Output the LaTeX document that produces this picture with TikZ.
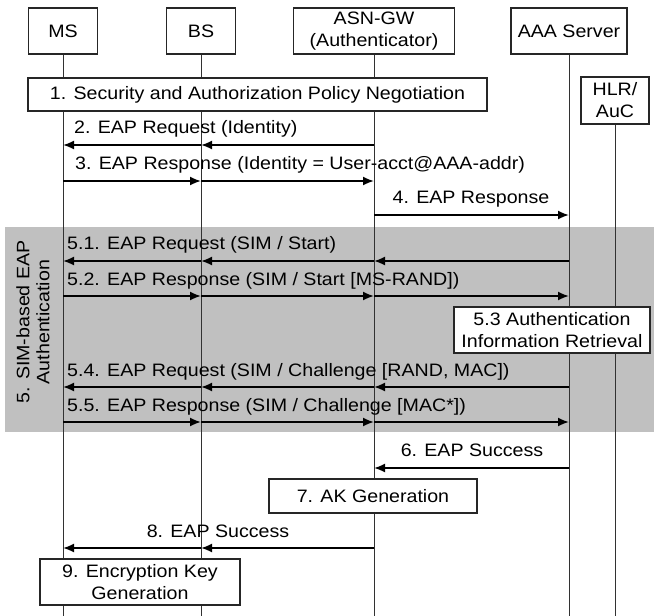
\documentclass[tikz,border=0pt]{standalone}
\usepackage{fontspec}
\setmainfont{Liberation Sans}[FakeStretch=1.09]
\usetikzlibrary{arrows.meta}
\definecolor{band}{RGB}{192,192,192}
\definecolor{lifecol}{RGB}{50,50,50}
\begin{document}
\begin{tikzpicture}[x=1pt,y=-1pt,
  every node/.style={font=\fontsize{18}{22}\selectfont, inner sep=0pt},
  box/.style={draw=black!85, line width=1.1pt, fill=white, align=center},
  life/.style={draw=lifecol, line width=0.9pt},
  msg/.style={draw=black, line width=1.8pt, -{Latex[length=11pt,width=9pt]}},
  lbl/.style={text height=12.9pt, text depth=0pt}]
\useasboundingbox (0,0) rectangle (654,616);
% grey band of phase 5
\fill[band] (5,227) rectangle (654,432);
\node[rotate=90, align=center, font=\fontsize{18}{20}\selectfont] (phase5) at (33,322) {5. SIM-based EAP\\Authentication};
% header boxes
\node[box, minimum width=69pt, minimum height=46pt] (ms) at (63,31) {MS};
\node[box, minimum width=69pt, minimum height=46pt] (bs) at (201,31) {BS};
\node[box, minimum width=161pt, minimum height=46pt] (asn) at (374,31) {ASN-GW\\(Authenticator)};
\node[box, minimum width=116pt, minimum height=46pt] (aaa) at (569,31) {AAA Server};
\node[box, minimum width=68pt, minimum height=47pt] (hlr) at (615,100.5) {HLR/\\AuC};
\coordinate (bottom) at (0,616);
% lifelines
\foreach \n in {ms,bs,asn,aaa,hlr}{\draw[life] (\n.south) -- (\n.south |- bottom);}
% boxes on the lifelines
\node[box, minimum width=459pt, minimum height=33pt] (neg) at (257.5,94.5) {1. Security and Authorization Policy Negotiation};
\node[box, minimum width=196pt, minimum height=46pt] (retr) at (552,330) {5.3 Authentication\\Information Retrieval};
\node[box, minimum width=208pt, minimum height=34pt] (akgen) at (373,496) {7. AK Generation};
\node[box, minimum width=200pt, minimum height=46pt] (ekgen) at (140,582) {9. Encryption Key\\Generation};
% message levels
\coordinate (m2) at (0,145);
\coordinate (m3) at (0,181);
\coordinate (m4) at (0,215);
\coordinate (m51) at (0,261);
\coordinate (m52) at (0,296);
\coordinate (m54) at (0,387);
\coordinate (m55) at (0,422);
\coordinate (m6) at (0,468);
\coordinate (m8) at (0,548);
% messages
\draw[msg] (asn |- m2) -- (bs |- m2);
\draw[msg] (bs |- m2) -- (ms |- m2);
\draw[msg] (ms |- m3) -- (bs |- m3);
\draw[msg] (bs |- m3) -- (asn |- m3);
\draw[msg] (asn |- m4) -- (aaa |- m4);
\draw[msg] (aaa |- m51) -- (asn |- m51);
\draw[msg] (asn |- m51) -- (bs |- m51);
\draw[msg] (bs |- m51) -- (ms |- m51);
\draw[msg] (ms |- m52) -- (bs |- m52);
\draw[msg] (bs |- m52) -- (asn |- m52);
\draw[msg] (asn |- m52) -- (aaa |- m52);
\draw[msg] (aaa |- m54) -- (asn |- m54);
\draw[msg] (asn |- m54) -- (bs |- m54);
\draw[msg] (bs |- m54) -- (ms |- m54);
\draw[msg] (ms |- m55) -- (bs |- m55);
\draw[msg] (bs |- m55) -- (asn |- m55);
\draw[msg] (asn |- m55) -- (aaa |- m55);
\draw[msg] (aaa |- m6) -- (asn |- m6);
\draw[msg] (asn |- m8) -- (bs |- m8);
\draw[msg] (bs |- m8) -- (ms |- m8);
% labels
\node[lbl, anchor=west] (l2) at (74,127) {2. EAP Request (Identity)};
\node[lbl, anchor=west] (l3) at (75,163) {3. EAP Response (Identity = User-acct@AAA-addr)};
\node[lbl] (l4) at (471,197) {4. EAP Response};
\node[lbl, anchor=west] (l51) at (67,243) {5.1. EAP Request (SIM / Start)};
\node[lbl, anchor=west] (l52) at (67,279) {5.2. EAP Response (SIM / Start [MS-RAND])};
\node[lbl, anchor=west] (l54) at (67,370) {5.4. EAP Request (SIM / Challenge [RAND, MAC])};
\node[lbl, anchor=west] (l55) at (67,405) {5.5. EAP Response (SIM / Challenge [MAC*])};
\node[lbl] (l6) at (472,450) {6. EAP Success};
\node[lbl] (l8) at (218,531) {8. EAP Success};
\end{tikzpicture}
\end{document}
